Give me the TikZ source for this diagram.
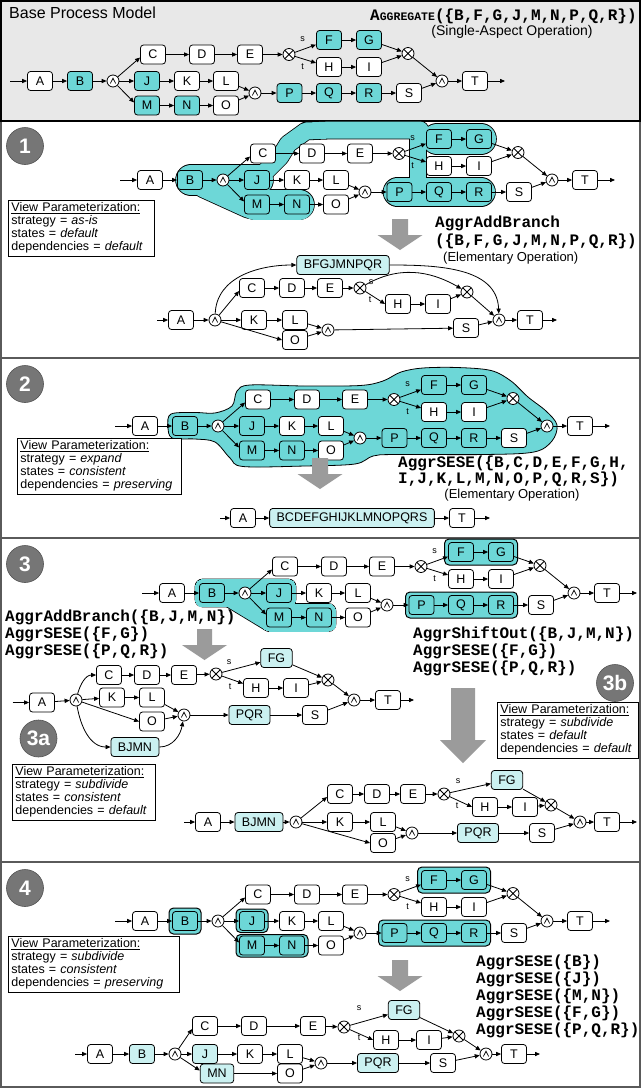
\documentclass[tikz,border=0pt]{standalone}
\usepackage{fontspec}
\setmainfont{Liberation Sans}
\setmonofont{Liberation Mono}
\usetikzlibrary{arrows.meta,calc}

\definecolor{hlteal}{HTML}{6DD7D7}
\definecolor{aggteal}{HTML}{CBF1F1}
\definecolor{panelgray}{HTML}{E8E8E8}
\definecolor{opgray}{HTML}{9B9B9B}
\definecolor{badgegray}{HTML}{767676}
\definecolor{framegray}{HTML}{5A5A5A}

\newcommand\lblfont{\fontsize{12.5}{14}\selectfont}
\newcommand\opfont{\ttfamily\bfseries\fontsize{16}{17}\selectfont}
\newcommand\vpfont{\fontsize{12.5}{13}\selectfont}

\tikzset{
  act/.style={draw=black, line width=0.8pt, rounded corners=3pt, fill=white,
    minimum width=25pt, minimum height=19pt, inner xsep=7pt, inner ysep=0pt,
    font=\lblfont},
  hl/.style={act, fill=hlteal},
  agg/.style={act, fill=aggteal},
  gatebase/.style={circle, draw=black, line width=0.8pt, fill=white,
    minimum size=12pt, inner sep=0pt},
  andg/.style={gatebase, path picture={\draw[line width=0.75pt]
      ([shift={(-2.7pt,-2.5pt)}]path picture bounding box.center)
      -- ++(2.7pt,5.3pt) -- ++(2.7pt,-5.3pt);}},
  xorg/.style={gatebase, path picture={\draw[line width=0.75pt]
      ([shift={(-4.3pt,-4.3pt)}]path picture bounding box.center) -- ++(8.6pt,8.6pt)
      ([shift={(-4.3pt,4.3pt)}]path picture bounding box.center) -- ++(8.6pt,-8.6pt);}},
  flow/.style={draw=black, line width=0.8pt, -{Triangle[length=5pt,width=4.2pt]}},
  branch/.style={font=\fontsize{9}{10}\selectfont, inner sep=0pt},
  optext/.style={font=\opfont, inner sep=0pt, anchor=west},
  note/.style={inner sep=0pt},
  viewbox/.style={draw=black, line width=0.8pt, fill=white, align=left,
    inner xsep=3pt, inner ysep=2.5pt, font=\vpfont, anchor=north west},
  badge/.style={circle, fill=badgegray, draw=badgegray!70!black, line width=0.6pt,
    minimum size=37pt, inner sep=0pt, text=white,
    font=\bfseries\fontsize{21}{21}\selectfont},
  hlbox/.style={fill=hlteal, draw=black, line width=1pt, rounded corners=4.5pt},
  bw/.style={line width=#1pt+\blobextra},
}

% the base process model, drawn in its own coordinates (prefix = node names)
\newcommand\procmodel[1]{%
  \coordinate (#1in) at (10,81);
  \coordinate (#1out) at (505,81);
  \node[act] (#1A) at (40,81) {A};
  \node[hl]  (#1B) at (80,81) {B};
  \node[andg] (#1a1) at (113,81) {};
  \node[act] (#1C) at (153,54.5) {C};
  \node[act] (#1D) at (202,54.5) {D};
  \node[act] (#1E) at (250,54.5) {E};
  \node[xorg] (#1x1) at (289,54.5) {};
  \node[hl]  (#1F) at (329,40) {F};
  \node[hl]  (#1G) at (369,40) {G};
  \node[act] (#1H) at (329,67) {H};
  \node[act] (#1I) at (369,67) {I};
  \node[xorg] (#1x2) at (408,53.5) {};
  \node[hl]  (#1J) at (147,81) {J};
  \node[act] (#1K) at (187,81) {K};
  \node[act] (#1L) at (226,81) {L};
  \node[hl]  (#1M) at (147,105.5) {M};
  \node[hl]  (#1N) at (187,105.5) {N};
  \node[act] (#1O) at (226,105.5) {O};
  \node[andg] (#1a2) at (255,93) {};
  \node[hl]  (#1P) at (289.5,93) {P};
  \node[hl]  (#1Q) at (329,93) {Q};
  \node[hl]  (#1R) at (369,93) {R};
  \node[act] (#1S) at (409,93) {S};
  \node[andg] (#1a3) at (442,81) {};
  \node[act] (#1T) at (475,81) {T};
  \node[branch] (#1s) at (302.5,39) {s};
  \node[branch] (#1t) at (302.5,67) {t};
  \foreach \u/\v in {in/A, A/B, B/a1, a1/J, C/D, D/E, E/x1, x1/F, x1/H, F/G, H/I,
      G/x2, I/x2, J/K, K/L, M/N, N/O, L/a2, O/a2, a2/P, P/Q, Q/R, R/S, x2/a3,
      S/a3, a3/T, T/out}
    \draw[flow] (#1\u) -- (#1\v);
  \draw[flow] (#1a1) -- ([yshift=-3pt]#1C.west);
  \draw[flow] (#1a1) -- ([yshift=3pt]#1M.west);
}

% a teal region made of several pieces, with one outline round their union
\newcommand\blobdraw[1]{%
  \begin{scope}[black, line cap=round, line join=round]\def\blobextra{1.6pt}#1\end{scope}%
  \begin{scope}[hlteal, line cap=round, line join=round]\def\blobextra{0pt}#1\end{scope}}

\newcommand\hlrect[2]{\filldraw[hlbox] #1 rectangle #2;}

% broad gray arrow: centre x, top y, shaft half width, head half width, shaft length, head length
\newcommand\gdarrow[6]{%
  \fill[opgray] (#1-#3,#2) -- (#1+#3,#2) -- (#1+#3,#2+#5) -- (#1+#4,#2+#5)
    -- (#1,#2+#5+#6) -- (#1-#4,#2+#5) -- (#1-#3,#2+#5) -- cycle;}

\begin{document}
\begin{tikzpicture}[x=1pt,y=-1pt]
\useasboundingbox (0,0) rectangle (641,1088);

% ---------- frame and panels ----------
\fill[white] (0,0) rectangle (641,1088);
\fill[panelgray] (1,1) rectangle (640,121);
\draw[framegray, line width=1.2pt] (1,1) rectangle (640,1087);
\draw[black, line width=1.2pt] (1,1) rectangle (640,121);
\draw[black, line width=2pt] (1,121) -- (640,121);
\foreach \yy in {358,538,862} \draw[framegray, line width=1.5pt] (1,\yy) -- (640,\yy);

% ---------- base process model ----------
\node[note, anchor=west, font=\fontsize{16}{18}\selectfont] (title) at (9,13) {Base Process Model};
\node[optext] (aggop) at (370,16) {A\fontsize{11.5}{13}\selectfont GGREGATE\fontsize{16}{17}\selectfont(\{B,F,G,J,M,N,P,Q,R\})};
\node[note, font=\fontsize{14}{16}\selectfont] (aggnote) at (512,32) {(Single-Aspect Operation)};
\begin{scope}
  \procmodel{p0}
\end{scope}

% ---------- panel 1 ----------
\node[badge] (b1) at (25,146) {1};
\begin{scope}[shift={(110,99)}]
  \blobdraw{%
    \draw[bw=30] (81,81) -- (148,81);
    \draw[bw=30] (145,105.5) -- (189,105.5);
    \draw[bw=30] (96,84) -- (140,104);
    \draw[bw=17] (152,76) -- (170,58) -- (178,45) -- (196,32) -- (222,31) -- (310,31);
    \draw[bw=30] (327,40) -- (371,40);
    \draw[bw=16] (308,40) -- (308,93);
    \draw[bw=28] (287.5,93) -- (371,93);
  }
  \procmodel{p1}
\end{scope}
\node[viewbox, text width=140pt] (vp1) at (8,200)
  {\underline{View Parameterization:}\\strategy = \textit{as-is}\\states = \textit{default}\\dependencies = \textit{default}};
\gdarrow{400}{219}{8}{22.5}{16}{15}
\node[optext] (op1a) at (435,223) {AggrAddBranch};
\node[optext] (op1b) at (435,241) {(\{B,F,G,J,M,N,P,Q,R\})};
\node[note, anchor=west, font=\fontsize{13}{15}\selectfont] (op1c) at (443,258) {(Elementary Operation)};

\coordinate (q1in) at (157,320);
\node[act] (q1A) at (181,320) {A};
\node[andg] (q1a1) at (215,320) {};
\node[agg] (q1BFG) at (343,265) {BFGJMNPQR};
\node[act] (q1C) at (252,288) {C};
\node[act] (q1D) at (292,288) {D};
\node[act] (q1E) at (330,288) {E};
\node[xorg] (q1x1) at (360,288) {};
\node[act] (q1H) at (398,304) {H};
\node[act] (q1I) at (438,304) {I};
\node[xorg] (q1x2) at (467,292) {};
\node[act] (q1K) at (254,320) {K};
\node[act] (q1L) at (295,320) {L};
\node[act] (q1O) at (295,340) {O};
\node[andg] (q1a2) at (328,330) {};
\node[act] (q1S) at (466,328) {S};
\node[andg] (q1a3) at (499,320) {};
\node[act] (q1T) at (530,320) {T};
\coordinate (q1out) at (557,320);
\node[branch] (q1s) at (371,282) {s};
\node[branch] (q1t) at (370,300) {t};
\foreach \u/\v in {in/A, A/a1, a1/K, K/L, L/a2, O/a2, a2/S, S/a3, a3/T, T/out,
    C/D, D/E, E/x1, H/I, I/x2, x2/a3}
  \draw[flow] (q1\u) -- (q1\v);
\draw[flow] (q1a1) -- ([yshift=-3pt]q1C.west);
\draw[flow] (q1a1) -- (q1O.west);
\draw[flow] (q1x1) -- (q1H.west);
\draw[flow] (q1a1) to[out=88,in=180] (q1BFG.west);
\draw[flow] (q1BFG.east) to[out=0,in=92] (q1a3);
\draw[flow] (q1x1) to[out=30,in=150] (q1x2);

% ---------- panel 2 ----------
\node[badge] (b2) at (25,384) {2};
\begin{scope}[shift={(105,345)}]
  \filldraw[fill=hlteal, draw=black, line width=0.8pt]
    plot[smooth cycle, tension=0.55] coordinates {(66,69) (90,67.5) (110,68) (127,61)
      (132,46) (145,40) (200,41) (255,40.5) (278,36) (296,27) (318,23) (352,22.5)
      (386,25.5) (406,36) (423,52) (441,66) (452,80) (447,96) (429,107) (380,109.5)
      (290,109.5) (268,111) (250,119) (200,121) (138,121.5) (125,113) (110,97)
      (90,94) (67,93) (63,81)};
  \procmodel{p2}
\end{scope}
\node[viewbox, text width=158pt] (vp2) at (17,438)
  {\underline{View Parameterization:}\\strategy = \textit{expand}\\states = \textit{consistent}\\dependencies = \textit{preserving}};
\gdarrow{320}{458}{8}{22.5}{16}{15}
\node[optext] (op2a) at (398,463) {AggrSESE(\{B,C,D,E,F,G,H,};
\node[optext] (op2b) at (398,479) {I,J,K,L,M,N,O,P,Q,R,S\})};
\node[note, font=\fontsize{13}{15}\selectfont] (op2c) at (512,495) {(Elementary Operation)};

\coordinate (r2in) at (220,518);
\node[act] (r2A) at (243,518) {A};
\node[agg] (r2BS) at (352,518) {BCDEFGHIJKLMNOPQRS};
\node[act] (r2T) at (462,518) {T};
\coordinate (r2out) at (490,518);
\foreach \u/\v in {in/A, A/BS, BS/T, T/out} \draw[flow] (r2\u) -- (r2\v);

% ---------- panel 3 ----------
\node[badge] (b3) at (25,564) {3};
\begin{scope}[shift={(132,512)}]
  \blobdraw{%
    \filldraw[line width=\blobextra, rounded corners=7pt] (63.5,67.5) rectangle (163.5,94.5);
    \filldraw[line width=\blobextra, rounded corners=7pt] (130.5,92) rectangle (203.5,119);
    \draw[bw=20] (100,86) -- (138,109);
  }
  \hlrect{(312.5,27)}{(385.5,53)}
  \hlrect{(273.5,80)}{(385.5,106)}
  \procmodel{p3}
\end{scope}

\node[optext] (op3a) at (5,617) {AggrAddBranch(\{B,J,M,N\})};
\node[optext] (op3b) at (5,634) {AggrSESE(\{F,G\})};
\node[optext] (op3c) at (5,651) {AggrSESE(\{P,Q,R\})};
\gdarrow{204.5}{629}{7.5}{22.5}{16}{15}

\node[optext] (op3d) at (413,634) {AggrShiftOut(\{B,J,M,N\})};
\node[optext] (op3e) at (413,651) {AggrSESE(\{F,G\})};
\node[optext] (op3f) at (413,668) {AggrSESE(\{P,Q,R\})};
\node[badge] (b3b) at (615,683) {3b};
\node[viewbox, text width=135pt] (vp3b) at (497,702)
  {\underline{View Parameterization:}\\strategy = \textit{subdivide}\\states = \textit{default}\\dependencies = \textit{default}};
\gdarrow{463}{688}{12}{23}{52}{23}

% variant 3a
\coordinate (q3in) at (12.5,702.5);
\node[act] (q3A) at (42,702.5) {A};
\node[andg] (q3a1) at (76,700) {};
\node[act] (q3C) at (109,675) {C};
\node[act] (q3D) at (147,675) {D};
\node[act] (q3E) at (184,675) {E};
\node[xorg] (q3x1) at (216,674) {};
\node[agg] (q3FG) at (276.5,658) {FG};
\node[act] (q3H) at (256,688) {H};
\node[act] (q3I) at (296,688) {I};
\node[xorg] (q3x2) at (328,680) {};
\node[act] (q3K) at (112,697.5) {K};
\node[act] (q3L) at (152,697.5) {L};
\node[act] (q3O) at (152,721.5) {O};
\node[andg] (q3a2) at (184,715) {};
\node[agg] (q3PQR) at (249.5,715) {PQR};
\node[act] (q3S) at (315,715) {S};
\node[andg] (q3a3) at (354,700) {};
\node[act] (q3T) at (388,700) {T};
\coordinate (q3out) at (414,700);
\node[agg] (q3BJMN) at (135,747) {BJMN};
\node[branch] (q3s) at (229,662) {s};
\node[branch] (q3t) at (230,687) {t};
\foreach \u/\v in {in/A, A/a1, a1/K, K/L, L/a2, O/a2, a2/PQR, PQR/S, S/a3, a3/T, T/out,
    C/D, D/E, E/x1, x1/FG, x1/H, FG/x2, H/I, I/x2, x2/a3}
  \draw[flow] (q3\u) -- (q3\v);
\draw[flow] (q3a1) to[out=75,in=180] (q3C.west);
\draw[flow] (q3a1) -- (q3O.west);
\draw[flow] (q3a1) to[out=-80,in=180] (q3BJMN.west);
\draw[flow] (q3BJMN.east) to[out=0,in=-100] (q3a2);
\node[badge] (b3a) at (38.5,738.5) {3a};
\node[viewbox, text width=137pt] (vp3a) at (12,764)
  {\underline{View Parameterization:}\\strategy = \textit{subdivide}\\states = \textit{consistent}\\dependencies = \textit{default}};

% variant 3b
\coordinate (q4in) at (184,822);
\node[act] (q4A) at (208,822) {A};
\node[agg] (q4BJMN) at (259,822) {BJMN};
\node[andg] (q4a1) at (296,822) {};
\node[act] (q4C) at (340,794) {C};
\node[act] (q4D) at (377,794) {D};
\node[act] (q4E) at (413,794) {E};
\node[xorg] (q4x1) at (444,794) {};
\node[agg] (q4FG) at (507,780) {FG};
\node[act] (q4H) at (485,807) {H};
\node[act] (q4I) at (525,807) {I};
\node[xorg] (q4x2) at (551,805) {};
\node[act] (q4K) at (340,822) {K};
\node[act] (q4L) at (383,822) {L};
\node[act] (q4O) at (383,843) {O};
\node[andg] (q4a2) at (412,833) {};
\node[agg] (q4PQR) at (478,833) {PQR};
\node[act] (q4S) at (542,833) {S};
\node[andg] (q4a3) at (580,822) {};
\node[act] (q4T) at (607,822) {T};
\coordinate (q4out) at (637,822);
\node[branch] (q4s) at (458,781) {s};
\node[branch] (q4t) at (457,806) {t};
\foreach \u/\v in {in/A, A/BJMN, BJMN/a1, a1/K, K/L, L/a2, O/a2, a2/PQR, PQR/S, S/a3,
    a3/T, T/out, C/D, D/E, E/x1, x1/FG, FG/x2, H/I, I/x2, x2/a3}
  \draw[flow] (q4\u) -- (q4\v);
\draw[flow] (q4a1) -- ([yshift=-3pt]q4C.west);
\draw[flow] (q4a1) -- (q4O.west);
\draw[flow] (q4x1) -- (q4H.west);

% ---------- panel 4 ----------
\node[badge] (b4) at (25,888) {4};
\begin{scope}[shift={(105,840)}]
  \hlrect{(64,68)}{(96,94)}
  \hlrect{(131,69)}{(163,92.5)}
  \hlrect{(131,94.5)}{(203,117)}
  \hlrect{(312.5,27)}{(385.5,53)}
  \hlrect{(273.5,80)}{(385.5,106)}
  \procmodel{p4}
\end{scope}
\node[viewbox, text width=165pt] (vp4) at (8,936)
  {\underline{View Parameterization:}\\strategy = \textit{subdivide}\\states = \textit{consistent}\\dependencies = \textit{preserving}};
\gdarrow{400}{960}{8}{22.5}{16}{15}
\node[optext] (op4a) at (476,962) {AggrSESE(\{B\})};
\node[optext] (op4b) at (476,979) {AggrSESE(\{J\})};
\node[optext] (op4c) at (476,996) {AggrSESE(\{M,N\})};
\node[optext] (op4d) at (476,1013) {AggrSESE(\{F,G\})};
\node[optext] (op4e) at (476,1030) {AggrSESE(\{P,Q,R\})};

\coordinate (q5in) at (75,1054);
\node[act] (q5A) at (100,1054) {A};
\node[agg] (q5B) at (142,1054) {B};
\node[andg] (q5a1) at (175,1054) {};
\node[act] (q5C) at (205,1026) {C};
\node[act] (q5D) at (254,1026) {D};
\node[act] (q5E) at (313,1026) {E};
\node[xorg] (q5x1) at (344,1027) {};
\node[agg] (q5FG) at (404,1010) {FG};
\node[act] (q5H) at (386,1040) {H};
\node[act] (q5I) at (429,1040) {I};
\node[xorg] (q5x2) at (459,1036) {};
\node[agg] (q5J) at (205,1054) {J};
\node[act] (q5K) at (250,1054) {K};
\node[act] (q5L) at (290,1054) {L};
\node[agg] (q5MN) at (217,1073.5) {MN};
\node[act] (q5O) at (290,1073.5) {O};
\node[andg] (q5a2) at (321,1063) {};
\node[agg] (q5PQR) at (378,1063) {PQR};
\node[act] (q5S) at (443,1063) {S};
\node[andg] (q5a3) at (486,1054) {};
\node[act] (q5T) at (514,1054) {T};
\coordinate (q5out) at (540,1054);
\node[branch] (q5s) at (359,1008) {s};
\node[branch] (q5t) at (359,1038) {t};
\foreach \u/\v in {in/A, A/B, B/a1, a1/J, J/K, K/L, L/a2, MN/O, O/a2, a2/PQR, PQR/S,
    S/a3, a3/T, T/out, C/D, D/E, E/x1, x1/FG, FG/x2, H/I, I/x2, x2/a3}
  \draw[flow] (q5\u) -- (q5\v);
\draw[flow] (q5a1) -- ([yshift=-3pt]q5C.west);
\draw[flow] (q5a1) -- ([yshift=3pt]q5MN.west);
\draw[flow] (q5x1) -- (q5H.west);
\end{tikzpicture}
\end{document}
